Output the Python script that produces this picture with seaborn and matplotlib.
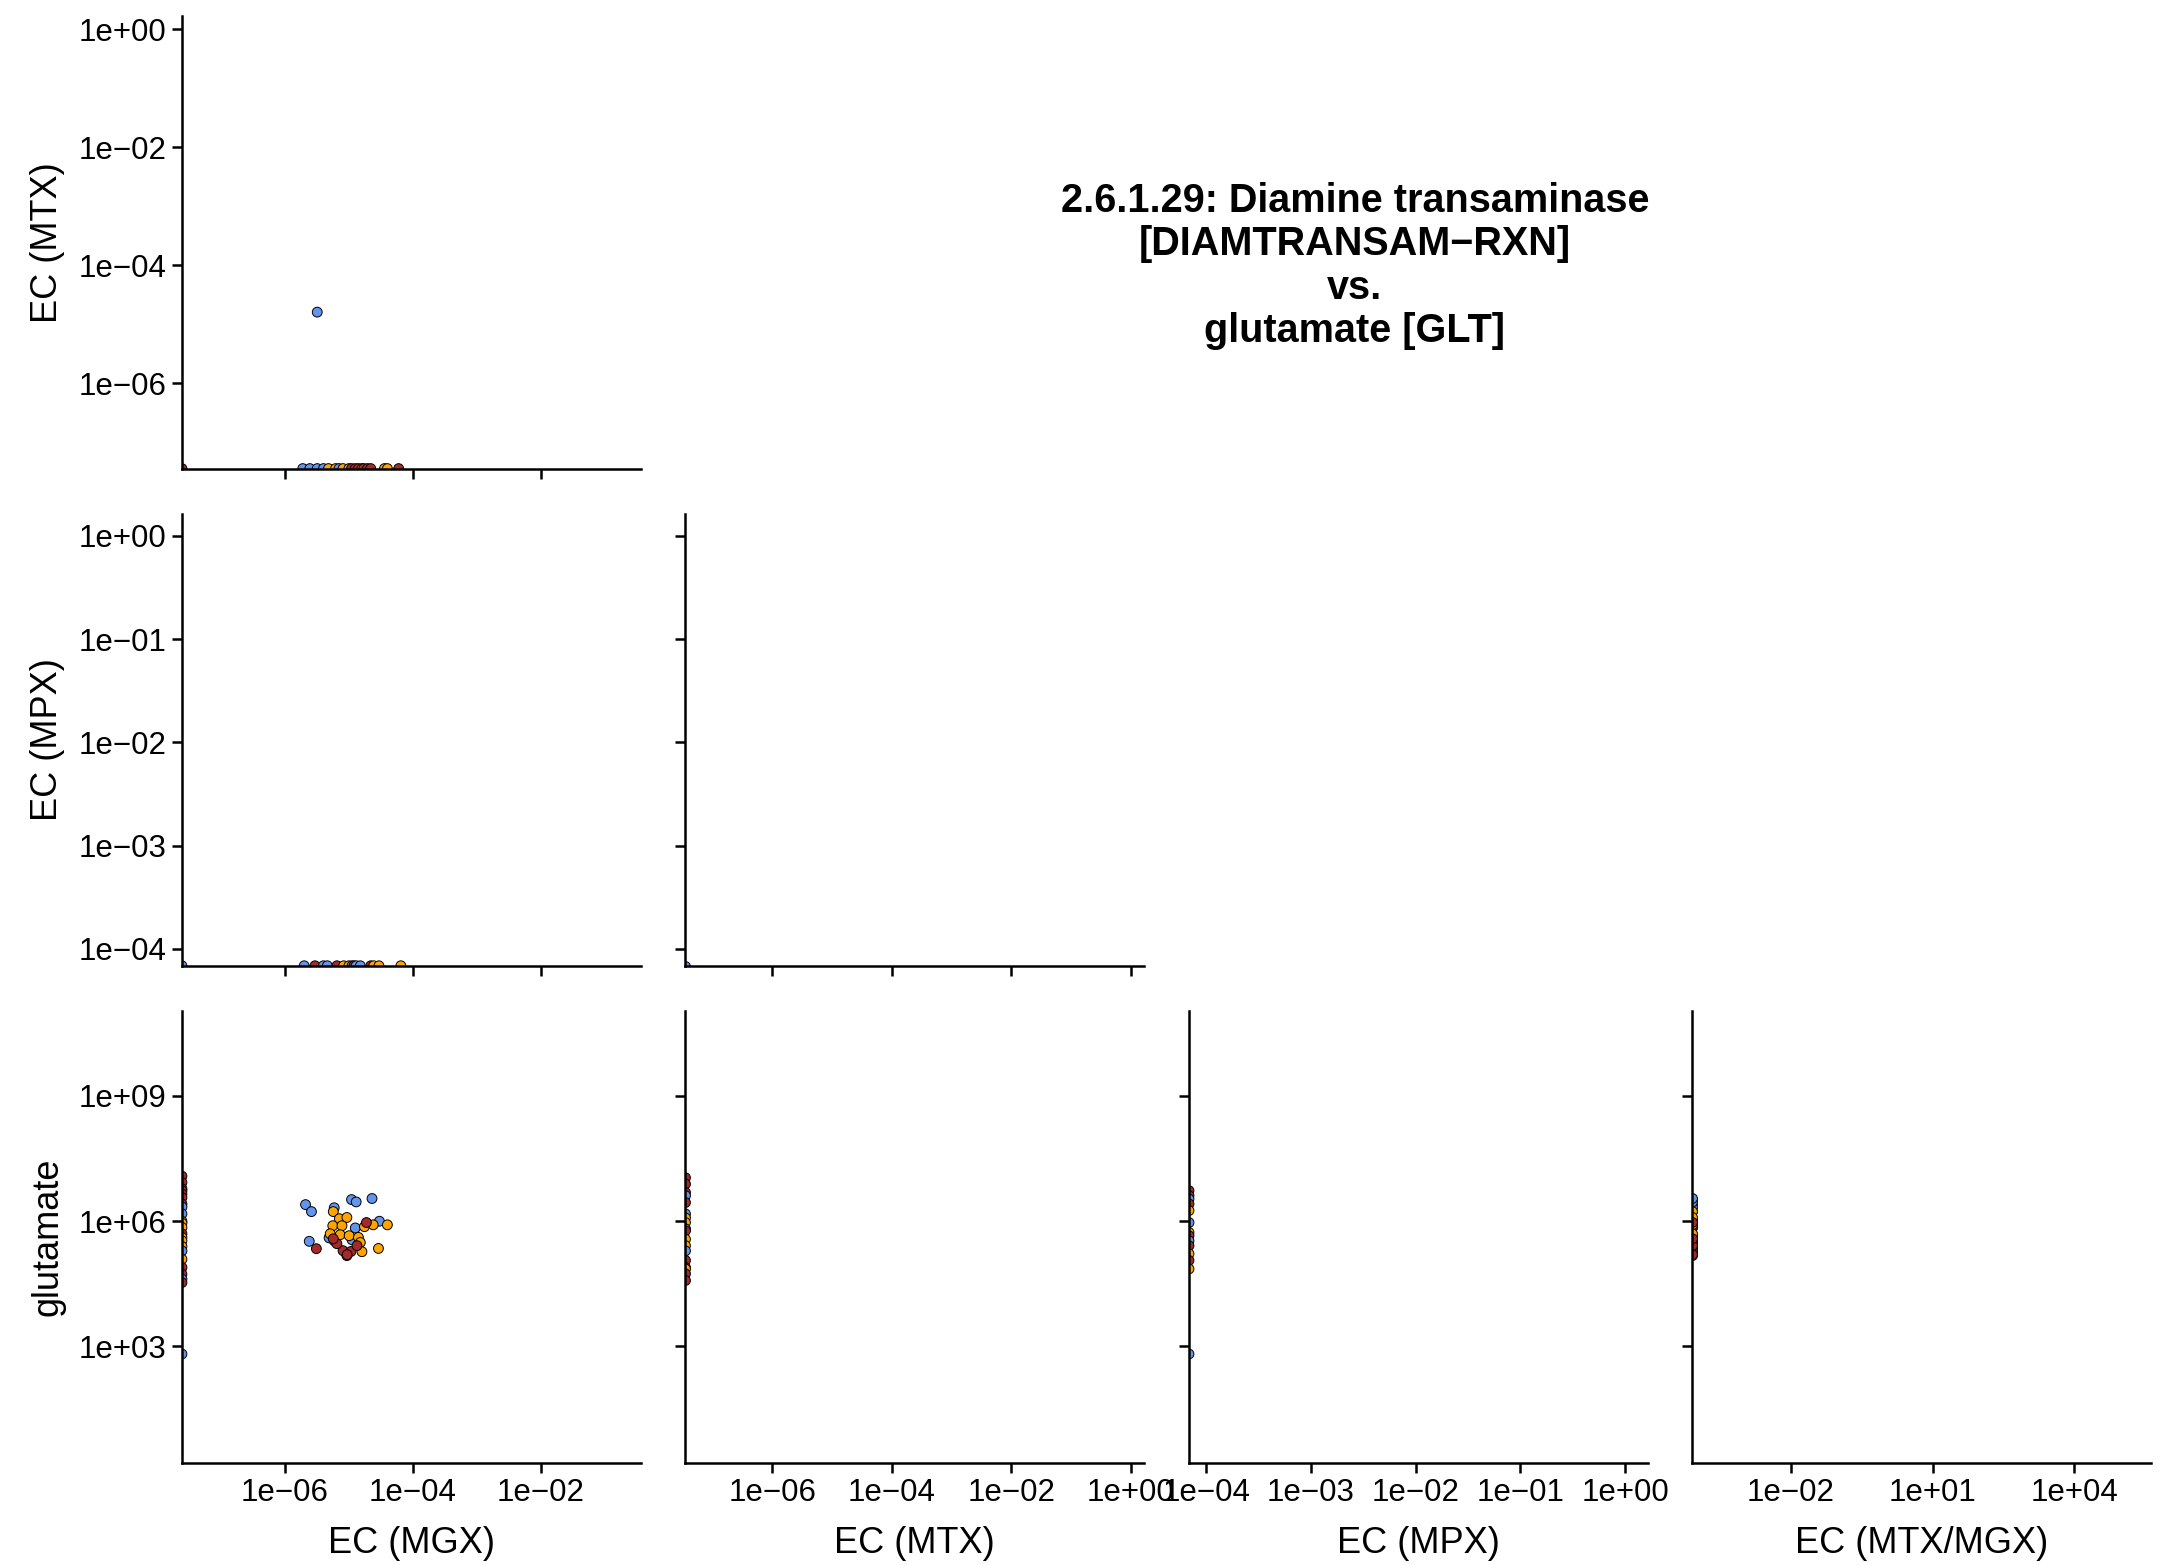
# Matriz de dispersión EC (MGX / MTX / MPX) vs. glutamato
import numpy as np
import pandas as pd
import matplotlib
matplotlib.use('Agg')
import matplotlib.pyplot as plt
import seaborn as sns
from matplotlib.ticker import FixedLocator, NullLocator

sns.set_theme(style='ticks', rc={
    'axes.linewidth': 1.8, 'axes.edgecolor': 'black',
    'xtick.major.size': 7, 'ytick.major.size': 7,
    'xtick.major.width': 1.8, 'ytick.major.width': 1.8,
    'xtick.color': 'black', 'ytick.color': 'black',
    'xtick.major.pad': 4, 'ytick.major.pad': 4,
    'axes.labelcolor': 'black', 'text.color': 'black',
})
plt.rcParams['font.family'] = ['Liberation Sans', 'DejaVu Sans']

# Colores por grupo
colores = {'nonIBD': '#6495ED', 'UC': '#FFA500', 'CD': '#A52A2A'}
orden = ['nonIBD', 'UC', 'CD']

titulo = '2.6.1.29: Diamine transaminase\n[DIAMTRANSAM\u2212RXN]\nvs.\nglutamate [GLT]'

# --- Datos: muestras con MGX > 0 y glutamato (la MTX es 0 en todas) ---
mgx_glt = [2.1e-6, 2.6e-6, 5.9e-6, 1.1e-5, 1.3e-5, 2.3e-5, 3.0e-5, 2.4e-6, 1.26e-5, 5.9e-6, 1.12e-5, 4.9e-6, 9.3e-6,
           5.7e-6, 7.1e-6, 9.3e-6, 5.6e-6, 7.8e-6, 7.3e-6, 1.01e-5, 1.41e-5, 1.51e-5, 1.75e-5, 2.4e-5, 4.0e-5, 1.6e-5, 2.9e-5, 5.1e-6,
           3.1e-6, 8.1e-6, 1.08e-5, 6.5e-6, 1.88e-5, 1.34e-5, 9.4e-6, 5.7e-6]
glt_mgx = [2.5e6, 1.7e6, 2.1e6, 3.3e6, 2.9e6, 3.5e6, 1.0e6, 3.3e5, 6.9e5, 3.4e5, 3.6e5, 4.0e5, 1.5e5,
           1.7e6, 1.15e6, 1.23e6, 7.8e5, 7.8e5, 4.75e5, 4.5e5, 4.1e5, 3.1e5, 7.4e5, 8.2e5, 8.2e5, 1.86e5, 2.23e5, 5.0e5,
           2.2e5, 1.97e5, 1.89e5, 2.9e5, 9.3e5, 2.6e5, 1.58e5, 3.8e5]
grupo_mgx = ['nonIBD'] * 13 + ['UC'] * 15 + ['CD'] * 8
mtx_mgx_ratio = [0.0] * len(glt_mgx)

# Muestras con MGX = 0 y glutamato
glt_mgx0 = [1.2e7, 8.5e6, 6.0e6, 5.4e6, 4.5e6, 3.7e6, 2.6e6, 2.2e6, 1.5e6, 1.0e6, 9.0e5, 7.1e5, 5.0e5, 4.1e5, 3.4e5,
            2.5e5, 1.95e5, 1.23e5, 7.8e4, 5.4e4, 4.1e4, 3.4e4, 660]
grupo_mgx0 = ['CD', 'CD', 'CD', 'CD', 'CD', 'CD', 'CD', 'nonIBD', 'nonIBD', 'UC', 'UC', 'UC', 'CD', 'UC', 'UC',
              'UC', 'nonIBD', 'UC', 'CD', 'CD', 'nonIBD', 'CD', 'nonIBD']

# Muestras con MTX = 0 y glutamato
glt_mtx0 = [1.1e7, 7.8e6, 4.9e6, 4.1e6, 2.8e6, 1.5e6, 1.2e6, 9.3e5, 6.6e5, 5.9e5, 3.7e5, 2.6e5, 1.95e5, 1.15e5,
            7.8e4, 7.2e4, 5.5e4, 3.8e4]
grupo_mtx0 = ['CD', 'CD', 'CD', 'nonIBD', 'CD', 'nonIBD', 'UC', 'UC', 'nonIBD', 'CD', 'UC', 'UC', 'nonIBD', 'CD',
              'CD', 'UC', 'CD', 'CD']

# Muestras con MPX = 0 y glutamato
glt_mpx0 = [5.4e6, 4.1e6, 3.4e6, 2.6e6, 1.8e6, 9.3e5, 5.4e5, 4.5e5, 3.4e5, 2.6e5, 1.66e5, 1.15e5, 7.2e4, 660]
grupo_mpx0 = ['CD', 'CD', 'nonIBD', 'CD', 'UC', 'nonIBD', 'UC', 'CD', 'nonIBD', 'CD', 'UC', 'CD', 'UC', 'nonIBD']

# MTX vs MGX
mgx_mtx = [1.9e-6, 2.45e-6, 3.2e-6, 4.0e-6, 4.8e-6, 6.2e-6, 7.0e-6, 8.1e-6, 1.0e-5, 1.1e-5, 1.26e-5, 1.41e-5,
           1.6e-5, 1.7e-5, 1.95e-5, 2.2e-5, 3.6e-5, 4.0e-5, 6.0e-5, 3.2e-6, 0.0]
mtx_mgx = [0.0] * 19 + [1.6e-5, 0.0]
grupo_mtx = ['nonIBD', 'nonIBD', 'nonIBD', 'nonIBD', 'UC', 'UC', 'nonIBD', 'UC', 'UC', 'CD', 'CD', 'CD',
             'UC', 'CD', 'CD', 'CD', 'UC', 'UC', 'CD', 'nonIBD', 'CD']

# MPX vs MGX
mgx_mpx = [2.0e-6, 2.95e-6, 4.0e-6, 4.6e-6, 6.5e-6, 8.3e-6, 1.0e-5, 1.12e-5, 1.2e-5, 1.3e-5, 1.51e-5, 2.2e-5,
           2.45e-5, 2.95e-5, 6.5e-5, 0.0]
mpx_mgx = [0.0] * 16
grupo_mpx = ['nonIBD', 'CD', 'nonIBD', 'nonIBD', 'CD', 'UC', 'UC', 'nonIBD', 'CD', 'nonIBD', 'nonIBD', 'CD',
             'UC', 'UC', 'UC', 'nonIBD']

# MPX vs MTX
mtx_mpx = [0.0]
mpx_mtx = [0.0]
grupo_mpx_mtx = ['nonIBD']

# Límites (log10) y marcas de cada variable
lim_mgx = (10 ** -7.61, 10 ** -0.44)
lim_mtx = (10 ** -7.45, 10 ** 0.22)
lim_mpx = (10 ** -4.165, 10 ** 0.215)
lim_ratio = (10 ** -4.08, 10 ** 5.62)
lim_glt = (10 ** 0.21, 10 ** 11.04)
ticks_mgx = [1e-6, 1e-4, 1e-2]
ticks_mtx_x = [1e-6, 1e-4, 1e-2, 1e0]
ticks_mtx_y = [1e-6, 1e-4, 1e-2, 1e0]
ticks_mpx = [1e-4, 1e-3, 1e-2, 1e-1, 1e0]
ticks_ratio = [1e-2, 1e1, 1e4]
ticks_glt = [1e3, 1e6, 1e9]


def etiqueta(v):
    e = int(round(np.log10(v)))
    signo = '+' if e >= 0 else '\u2212'
    return f'1e{signo}{abs(e):02d}'


def dibujar(ax, x, y, g, xlim, ylim):
    # los ceros en escala log se dibujan en el borde del panel
    x = np.asarray(x, dtype=float)
    y = np.asarray(y, dtype=float)
    df = pd.DataFrame({'x': np.where(x > 0, x, xlim[0]),
                       'y': np.where(y > 0, y, ylim[0]),
                       'grupo': g})
    sns.scatterplot(data=df, x='x', y='y', hue='grupo', hue_order=orden, palette=colores,
                    s=50, edgecolor='black', linewidth=0.7, alpha=1, legend=False, ax=ax, zorder=1)


def ejes(ax, xlim, ylim, xt, yt, xlab=None, ylab=None, xnum=True, ynum=True):
    ax.set_xscale('log')
    ax.set_yscale('log')
    ax.set_xlim(xlim)
    ax.set_ylim(ylim)
    ax.xaxis.set_major_locator(FixedLocator(xt))
    ax.yaxis.set_major_locator(FixedLocator(yt))
    ax.xaxis.set_minor_locator(NullLocator())
    ax.yaxis.set_minor_locator(NullLocator())
    ax.set_xticklabels([etiqueta(v) for v in xt] if xnum else [''] * len(xt))
    ax.set_yticklabels([etiqueta(v) for v in yt] if ynum else [''] * len(yt))
    ax.tick_params(labelsize=22.5)
    ax.set_xlabel(xlab if xlab else '', fontsize=26, labelpad=13)
    ax.set_ylabel(ylab if ylab else '', fontsize=26, labelpad=10)
    sns.despine(ax=ax)


fig, axes = plt.subplots(3, 4, figsize=(21.61, 15.65), dpi=100)
fig.subplots_adjust(left=0.0842, right=0.9954, bottom=0.0652, top=0.9895, wspace=0.098, hspace=0.0996)

for (i, j) in [(0, 1), (0, 2), (0, 3), (1, 2), (1, 3)]:
    axes[i, j].axis('off')

# Fila 1: MTX vs MGX
dibujar(axes[0, 0], mgx_mtx, mtx_mgx, grupo_mtx, lim_mgx, lim_mtx)
ejes(axes[0, 0], lim_mgx, lim_mtx, ticks_mgx, ticks_mtx_y, ylab='EC (MTX)', xnum=False)

# Fila 2: MPX vs MGX y MPX vs MTX
dibujar(axes[1, 0], mgx_mpx, mpx_mgx, grupo_mpx, lim_mgx, lim_mpx)
ejes(axes[1, 0], lim_mgx, lim_mpx, ticks_mgx, ticks_mpx, ylab='EC (MPX)', xnum=False)
dibujar(axes[1, 1], mtx_mpx, mpx_mtx, grupo_mpx_mtx, lim_mtx, lim_mpx)
ejes(axes[1, 1], lim_mtx, lim_mpx, ticks_mtx_x, ticks_mpx, xnum=False, ynum=False)

# Fila 3: glutamato vs cada variable
dibujar(axes[2, 0], mgx_glt + [0.0] * len(glt_mgx0), glt_mgx + glt_mgx0, grupo_mgx + grupo_mgx0, lim_mgx, lim_glt)
ejes(axes[2, 0], lim_mgx, lim_glt, ticks_mgx, ticks_glt, xlab='EC (MGX)', ylab='glutamate')
dibujar(axes[2, 1], [0.0] * len(glt_mtx0), glt_mtx0, grupo_mtx0, lim_mtx, lim_glt)
ejes(axes[2, 1], lim_mtx, lim_glt, ticks_mtx_x, ticks_glt, xlab='EC (MTX)', ynum=False)
dibujar(axes[2, 2], [0.0] * len(glt_mpx0), glt_mpx0, grupo_mpx0, lim_mpx, lim_glt)
ejes(axes[2, 2], lim_mpx, lim_glt, ticks_mpx, ticks_glt, xlab='EC (MPX)', ynum=False)
dibujar(axes[2, 3], mtx_mgx_ratio, glt_mgx, grupo_mgx, lim_ratio, lim_glt)
ejes(axes[2, 3], lim_ratio, lim_glt, ticks_ratio, ticks_glt, xlab='EC (MTX/MGX)', ynum=False)

fig.text(0.627, 0.830, titulo, ha='center', va='center', fontsize=28.5, fontweight='bold', linespacing=1.18)

fig.savefig('out.png', dpi=100)
